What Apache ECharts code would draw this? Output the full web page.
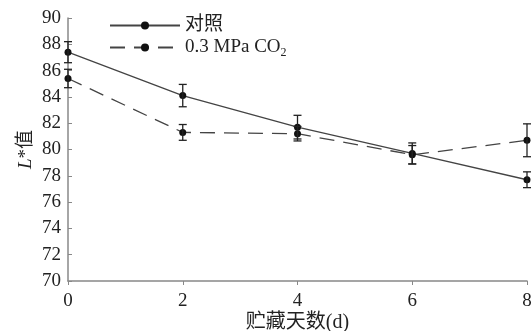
<!DOCTYPE html>
<html>
<head>
<meta charset="utf-8">
<script src="https://cdn.jsdelivr.net/npm/echarts@6/dist/echarts.min.js"></script>
<style>
  html, body { margin: 0; padding: 0; background: #fff; }
  #chart { width: 532px; height: 331px; }
</style>
</head>
<body>
<div id="chart"></div>
<script>
// 贮藏天数
const days = [0, 2, 4, 6, 8];
// 对照
const controlVals = [87.4, 84.1, 81.7, 79.7, 77.7];
const controlErr = [0.8, 0.85, 0.9, 0.8, 0.6];
// 0.3 MPa CO2
const co2Vals = [85.4, 81.3, 81.2, 79.6, 80.7];
const co2Err = [0.7, 0.6, 0.55, 0.7, 1.25];
const yTicks = [70, 72, 74, 76, 78, 80, 82, 84, 86, 88, 90];

const FONT = '"Liberation Serif", "Noto Sans CJK SC", serif';
const INK = '#222';

function pairs(vals) {
  return days.map((d, i) => [d, vals[i]]);
}
function errData(vals, errs) {
  return days.map((d, i) => [d, vals[i] - errs[i], vals[i] + errs[i]]);
}

// 误差棒
function renderErr(params, api) {
  const x = api.value(0);
  const lo = api.coord([x, api.value(1)]);
  const hi = api.coord([x, api.value(2)]);
  const w = 4;
  const style = { stroke: INK, lineWidth: 1.3 };
  return {
    type: 'group',
    children: [
      { type: 'line', shape: { x1: lo[0], y1: lo[1], x2: hi[0], y2: hi[1] }, style },
      { type: 'line', shape: { x1: lo[0] - w, y1: lo[1], x2: lo[0] + w, y2: lo[1] }, style },
      { type: 'line', shape: { x1: hi[0] - w, y1: hi[1], x2: hi[0] + w, y2: hi[1] }, style }
    ]
  };
}

const myChart = echarts.init(document.getElementById('chart'));
const option = {
  animation: false,
  grid: { left: 68, right: 5, top: 18, bottom: 50, outerBoundsMode: 'none' },
  legend: {
    data: ['对照', '0.3 MPa CO2'],
    orient: 'vertical',
    left: 104,
    top: 11,
    itemWidth: 70,
    itemHeight: 10,
    itemGap: 3,
    textStyle: {
      fontFamily: FONT, fontSize: 19, color: INK,
      rich: { sub: { fontFamily: FONT, fontSize: 12, color: INK, padding: [10, 0, 0, 0] } }
    },
    formatter: name => name === '0.3 MPa CO2' ? '0.3 MPa CO{sub|2}' : name
  },
  xAxis: {
    type: 'value',
    min: 0,
    max: 8,
    interval: 2,
    name: '贮藏天数(d)',
    nameLocation: 'middle',
    nameGap: 32,
    nameMoveOverlap: false,
    nameTextStyle: { fontFamily: FONT, fontSize: 20, color: INK },
    axisLine: { lineStyle: { color: '#888', width: 1.5 } },
    axisTick: { inside: false, length: 4, lineStyle: { color: '#888' } },
    axisLabel: { fontFamily: FONT, fontSize: 19, color: INK, margin: 11 },
    splitLine: { show: false }
  },
  yAxis: {
    type: 'value',
    min: 70,
    max: 90,
    interval: 2,
    name: '{i|L}*值',
    nameLocation: 'middle',
    nameGap: 32,
    nameMoveOverlap: false,
    nameRotate: 90,
    nameTextStyle: {
      fontFamily: FONT, fontSize: 19, color: INK,
      rich: { i: { fontFamily: FONT, fontSize: 19, fontStyle: 'italic', color: INK } }
    },
    axisLine: { show: true, lineStyle: { color: '#888', width: 1.5 } },
    axisTick: { show: true, inside: true, length: 4, lineStyle: { color: '#888' } },
    axisLabel: {
      fontFamily: FONT, fontSize: 19, color: INK, margin: 7,
      formatter: v => yTicks.includes(v) ? String(v) : ''
    },
    splitLine: { show: false }
  },
  series: [
    {
      name: '对照',
      type: 'line',
      data: pairs(controlVals),
      symbol: 'circle',
      symbolSize: 7,
      lineStyle: { color: '#444', width: 1.3, type: 'solid' },
      itemStyle: { color: '#111' },
      z: 3
    },
    {
      name: '0.3 MPa CO2',
      type: 'line',
      data: pairs(co2Vals),
      symbol: 'circle',
      symbolSize: 7,
      lineStyle: { color: '#444', width: 1.3, type: [15, 9] },
      itemStyle: { color: '#111' },
      z: 3
    },
    {
      type: 'custom',
      renderItem: renderErr,
      data: errData(controlVals, controlErr),
      z: 4
    },
    {
      type: 'custom',
      renderItem: renderErr,
      data: errData(co2Vals, co2Err),
      z: 4
    }
  ]
};
myChart.setOption(option);
</script>
</body>
</html>
